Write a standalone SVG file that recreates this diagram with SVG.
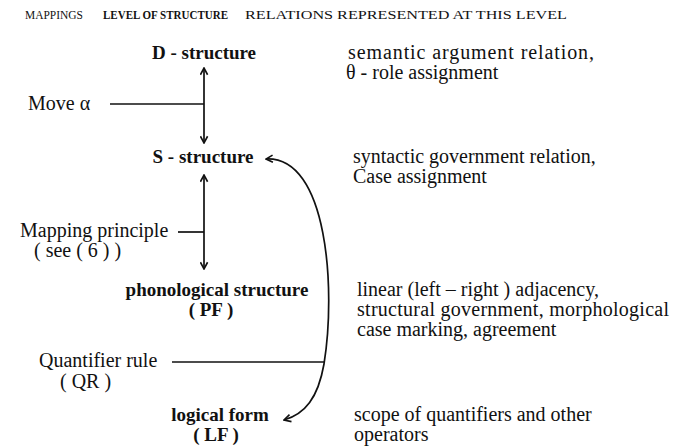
<svg xmlns="http://www.w3.org/2000/svg" width="687" height="448" viewBox="0 0 687 448">
<defs>
<style>
text{font-family:"Liberation Serif","Times New Roman","DejaVu Serif",serif;fill:#111}
.h{font-size:12px}
.hb{font-size:12px;font-weight:bold}
.t{font-size:20px}
.b{font-size:19px;font-weight:bold}
.c{text-anchor:middle}
.ln{stroke:#111;stroke-width:1.7;fill:none}
</style>
<marker id="ah" viewBox="0 0 10 10" refX="9" refY="5" markerWidth="9" markerHeight="9" markerUnits="userSpaceOnUse" orient="auto-start-reverse">
<path d="M1.5 1 L9 5 L1.5 9" fill="none" stroke="#111" stroke-width="1.8"/>
</marker>
</defs>
<rect width="687" height="448" fill="#fff"/>
<g id="header">
<text class="h" x="25" y="19" textLength="58" lengthAdjust="spacingAndGlyphs">MAPPINGS</text>
<text class="hb" x="103" y="19" textLength="125" lengthAdjust="spacingAndGlyphs">LEVEL OF STRUCTURE</text>
<text class="h" x="245" y="19" textLength="322" lengthAdjust="spacingAndGlyphs">RELATIONS REPRESENTED AT THIS LEVEL</text>
</g>
<g id="d-structure">
<text class="b c" x="204" y="59">D - structure</text>
</g>
<g id="s-structure">
<text class="b c" x="203" y="163">S - structure</text>
</g>
<g id="pf">
<text class="b c" x="217" y="296">phonological structure</text>
<text class="b c" x="211" y="316">( PF )</text>
</g>
<g id="lf">
<text class="b c" x="220" y="421">logical form</text>
<text class="b c" x="216" y="441">( LF )</text>
</g>
<g id="rel-d">
<text class="t" x="348" y="59" textLength="246">semantic  argument relation,</text>
<text class="t" x="346" y="79">θ - role  assignment</text>
</g>
<g id="rel-s">
<text class="t" x="353" y="163">syntactic  government  relation,</text>
<text class="t" x="353" y="183">Case  assignment</text>
</g>
<g id="rel-pf">
<text class="t" x="357" y="296">linear  (left – right ) adjacency,</text>
<text class="t" x="357" y="316" textLength="312">structural  government,  morphological</text>
<text class="t" x="357" y="336">case  marking, agreement</text>
</g>
<g id="rel-lf">
<text class="t" x="354" y="421">scope  of  quantifiers  and  other</text>
<text class="t" x="354" y="441">operators</text>
</g>
<g id="map-move">
<text class="t" x="28" y="110">Move  α</text>
</g>
<g id="map-mapping">
<text class="t" x="20" y="237">Mapping  principle</text>
<text class="t" x="34" y="257">( see  ( 6 ) )</text>
</g>
<g id="map-qr">
<text class="t" x="39" y="367">Quantifier  rule</text>
<text class="t" x="60" y="388">( QR )</text>
</g>
<g id="connectors">
<line class="ln" x1="204" y1="68" x2="204" y2="143" marker-start="url(#ah)" marker-end="url(#ah)"/>
<line class="ln" x1="110" y1="104" x2="204" y2="104"/>
<line class="ln" x1="204" y1="175" x2="204" y2="269" marker-start="url(#ah)" marker-end="url(#ah)"/>
<line class="ln" x1="178" y1="232" x2="204" y2="232"/>
<path class="ln" d="M266 159 C328 156, 336 290, 324 364 C318 398, 305 414, 284 420" marker-start="url(#ah)" marker-end="url(#ah)"/>
<line class="ln" x1="172" y1="362" x2="324" y2="362"/>
</g>
</svg>
